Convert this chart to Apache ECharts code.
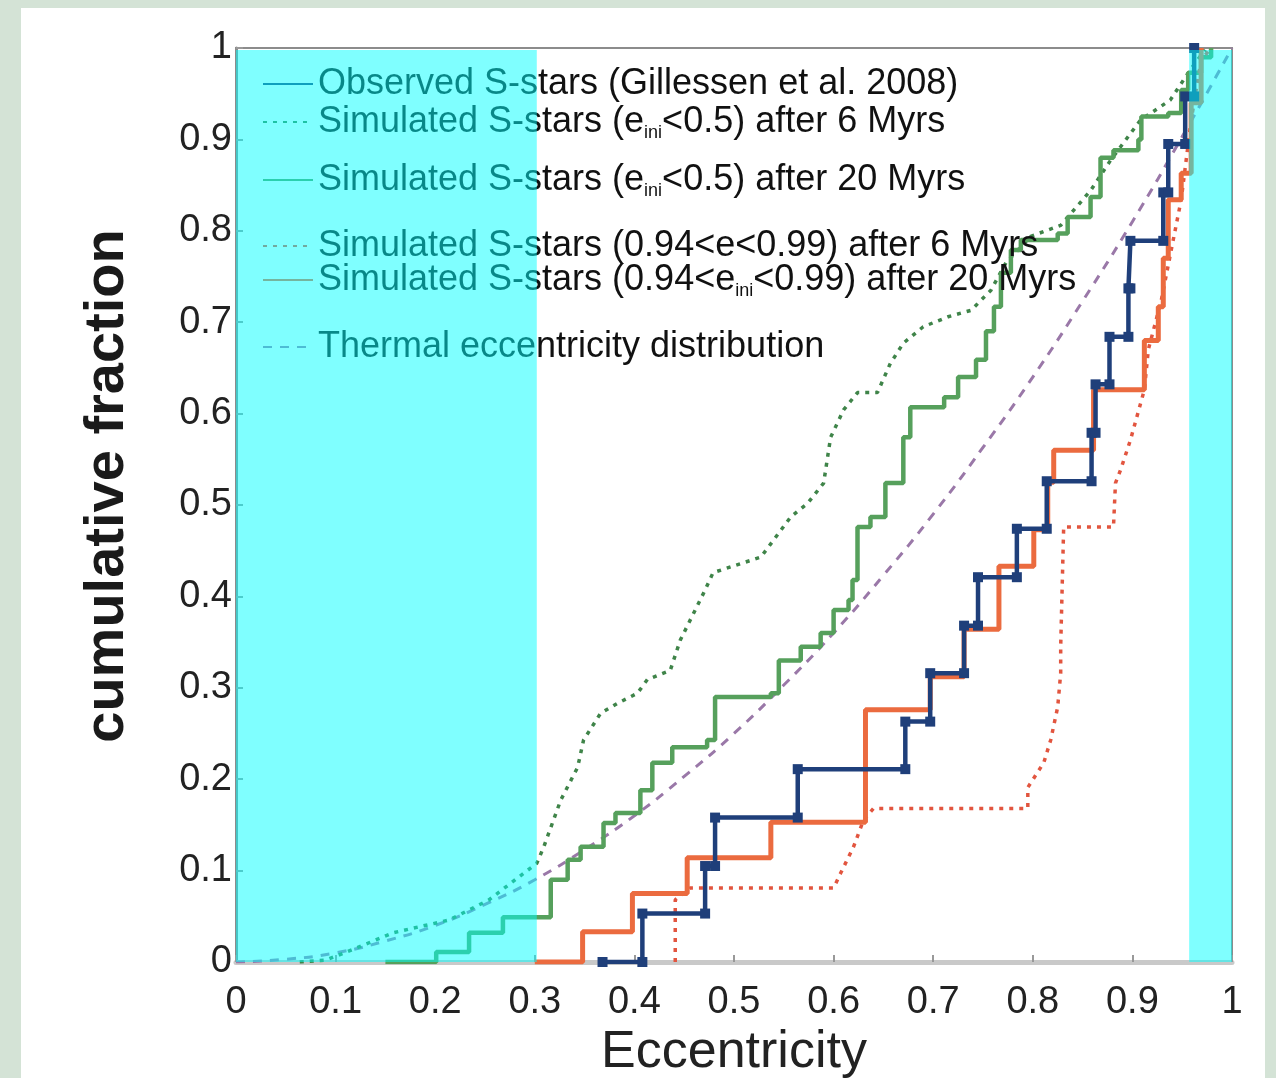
<!DOCTYPE html>
<html>
<head>
<meta charset="utf-8">
<script src="https://cdn.jsdelivr.net/npm/echarts@6/dist/echarts.min.js"></script>
<style>
  html, body { margin: 0; padding: 0; background: #d4e3d6; }
  #panel { position: absolute; left: 21px; top: 8px; width: 1244px; height: 1070px; background: #fff; }
  #chart { position: absolute; left: 0; top: 0; width: 1276px; height: 1078px; }
</style>
</head>
<body>
<div id="panel"></div>
<div id="chart"></div>
<script>
// observed S-stars, cumulative steps (ecc where the step happens, fraction after it)
const observedEcc = [0.368, 0.408, 0.471, 0.481, 0.564, 0.672, 0.697, 0.731, 0.745, 0.784, 0.814, 0.859, 0.863, 0.877, 0.896, 0.898, 0.931, 0.936, 0.953, 0.962]
const observedFrac = [0, 0.053, 0.105, 0.158, 0.211, 0.263, 0.316, 0.368, 0.421, 0.474, 0.526, 0.579, 0.632, 0.684, 0.737, 0.789, 0.842, 0.895, 0.947, 1.0]

// e_ini < 0.5, 6 Myr (dotted green)
const lowEarlyEcc = [0.064, 0.090, 0.111, 0.158, 0.214, 0.254, 0.284, 0.302, 0.309, 0.326, 0.343, 0.349, 0.366, 0.383, 0.403, 0.413, 0.436, 0.446, 0.461, 0.471, 0.479, 0.527, 0.540, 0.557, 0.574, 0.590, 0.597, 0.610, 0.624, 0.644, 0.657, 0.670, 0.690, 0.715, 0.738, 0.758, 0.773, 0.798, 0.828, 0.858, 0.878, 0.908, 0.938, 0.958, 0.973]
const lowEarlyFrac = [0, 0.002, 0.011, 0.032, 0.046, 0.068, 0.093, 0.108, 0.126, 0.177, 0.213, 0.243, 0.272, 0.283, 0.294, 0.309, 0.319, 0.352, 0.385, 0.407, 0.426, 0.443, 0.462, 0.487, 0.502, 0.524, 0.574, 0.604, 0.623, 0.623, 0.655, 0.677, 0.695, 0.706, 0.713, 0.735, 0.765, 0.794, 0.806, 0.844, 0.877, 0.921, 0.943, 0.976, 0.998]

// e_ini < 0.5, 20 Myr (solid green), steps
const lowLateEcc = [0.15, 0.201, 0.234, 0.268, 0.316, 0.333, 0.346, 0.369, 0.381, 0.406, 0.418, 0.438, 0.473, 0.481, 0.537, 0.545, 0.567, 0.587, 0.600, 0.615, 0.619, 0.624, 0.637, 0.652, 0.670, 0.677, 0.711, 0.725, 0.743, 0.753, 0.761, 0.768, 0.778, 0.788, 0.825, 0.835, 0.858, 0.868, 0.881, 0.906, 0.909, 0.936, 0.949, 0.956, 0.969, 0.979]
const lowLateFrac = [0, 0.011, 0.032, 0.049, 0.09, 0.112, 0.126, 0.152, 0.163, 0.188, 0.218, 0.235, 0.243, 0.29, 0.294, 0.33, 0.345, 0.36, 0.385, 0.396, 0.418, 0.476, 0.487, 0.524, 0.574, 0.607, 0.618, 0.64, 0.659, 0.69, 0.717, 0.754, 0.779, 0.79, 0.797, 0.815, 0.837, 0.88, 0.888, 0.9, 0.925, 0.929, 0.954, 0.973, 0.99, 1.0]

// 0.94 < e < 0.99, 6 Myr (dotted red)
const highEarlyEcc = [0.441, 0.441, 0.456, 0.600, 0.607, 0.620, 0.630, 0.640, 0.795, 0.795, 0.811, 0.818, 0.825, 0.828, 0.828, 0.831, 0.881, 0.883, 0.888, 0.898, 0.912, 0.916, 0.929, 0.939, 0.949, 0.959, 0.969, 0.979]
const highEarlyFrac = [0, 0.068, 0.081, 0.081, 0.097, 0.126, 0.155, 0.168, 0.168, 0.191, 0.218, 0.243, 0.279, 0.316, 0.345, 0.476, 0.476, 0.524, 0.538, 0.571, 0.626, 0.670, 0.724, 0.779, 0.834, 0.921, 0.987, 1.0]

// 0.94 < e_ini < 0.99, 20 Myr (solid orange), steps
const highLateEcc = [0.30, 0.348, 0.398, 0.453, 0.537, 0.632, 0.697, 0.731, 0.766, 0.801, 0.815, 0.821, 0.861, 0.912, 0.926, 0.931, 0.936, 0.949, 0.959, 0.969]
const highLateFrac = [0, 0.033, 0.075, 0.114, 0.153, 0.276, 0.312, 0.364, 0.433, 0.473, 0.525, 0.56, 0.626, 0.68, 0.717, 0.77, 0.834, 0.863, 0.94, 1.0]

// thermal distribution (dashed)
const thermalEcc = [0, 0.05, 0.1, 0.15, 0.2, 0.25, 0.3, 0.35, 0.4, 0.45, 0.5, 0.55, 0.6, 0.65, 0.7, 0.75, 0.8, 0.85, 0.9, 0.95, 1.0]
const thermalFrac = [0, 0.003, 0.01, 0.023, 0.04, 0.063, 0.09, 0.123, 0.16, 0.203, 0.25, 0.303, 0.36, 0.423, 0.49, 0.563, 0.64, 0.723, 0.81, 0.903, 1.0]

// shaded bands [from, to] in eccentricity
const shadedBands = [[0, 0.302], [0.957, 1.0]]

const seriesNames = [
	'Observed S-stars (Gillessen et al. 2008)',
	'Simulated S-stars (e_ini<0.5) after 6 Myrs',
	'Simulated S-stars (e_ini<0.5) after 20 Myrs',
	'Simulated S-stars (0.94<e<0.99) after 6 Myrs',
	'Simulated S-stars (0.94<e_ini<0.99) after 20 Myrs',
	'Thermal eccentricity distribution',
]

const zip = (xs, ys) => xs.map((x, i) => [x, ys[i]])
// explicit stair corners so markers sit on both ends of each riser
const stairs = (xs, ys) => {
	const out = [[xs[0], ys[0]]]
	for (let i = 1; i < xs.length; i++) {
		out.push([xs[i], ys[i - 1]])
		out.push([xs[i], ys[i]])
	}
	return out
}

const font = 'Liberation Sans, Arial, sans-serif'
const legendTops = [66, 104, 162, 228, 262, 329]

const legendFormatter = (name) => {
	if (name.indexOf('_ini') < 0) return '{t|' + name + '}'
	const parts = name.split('_ini')
	return '{t|' + parts[0] + '}{s|ini}{t|' + parts[1] + '}'
}

const chart = echarts.init(document.getElementById('chart'), null, { renderer: 'canvas' })

const option = {
	animation: false,
	backgroundColor: 'transparent',
	grid: {
		left: 236,
		right: 44,
		top: 48,
		bottom: 116,
		outerBoundsMode: 'none',
		containLabel: false,
		show: true,
		borderColor: '#8c8c8c',
		borderWidth: 2,
	},
	legend: seriesNames.map((name, i) => ({
		data: [name],
		left: 262,
		top: legendTops[i],
		padding: 0,
		itemWidth: 50,
		itemHeight: 18,
		itemStyle: { opacity: 0 },
		selectedMode: false,
		formatter: legendFormatter,
		textStyle: {
			rich: {
				t: { fontFamily: font, fontSize: 36, color: '#111', lineHeight: 38 },
				s: { fontFamily: font, fontSize: 18, color: '#111', padding: [22, 0, 0, 0] },
			},
		},
	})),
	xAxis: {
		type: 'value',
		min: 0,
		max: 1,
		interval: 0.1,
		name: 'Eccentricity',
		nameLocation: 'middle',
		nameGap: 54,
		nameTextStyle: { fontFamily: font, fontSize: 52, color: '#222' },
		axisLine: { show: true, lineStyle: { color: '#c9c9c9', width: 5 } },
		axisTick: { show: true, inside: true, length: 7, lineStyle: { color: '#999', width: 2 } },
		splitLine: { show: false },
		axisLabel: { fontFamily: font, fontSize: 38, color: '#222', margin: 22 },
	},
	yAxis: {
		type: 'value',
		min: 0,
		max: 1,
		interval: 0.1,
		name: 'cumulative fraction',
		nameLocation: 'middle',
		nameGap: 100,
		nameTextStyle: { fontFamily: font, fontSize: 56, fontWeight: 'bold', color: '#1a1a1a', padding: [0, 0, 0, 38] },
		axisLine: { show: true, lineStyle: { color: '#8c8c8c', width: 3 } },
		axisTick: { show: true, inside: true, length: 7, lineStyle: { color: '#999', width: 2 } },
		splitLine: { show: false },
		axisLabel: { fontFamily: font, fontSize: 38, color: '#222', margin: 4 },
	},
	series: [
		{
			name: seriesNames[5],
			type: 'line',
			data: zip(thermalEcc, thermalFrac),
			smooth: true,
			symbol: 'none',
			lineStyle: { color: '#9a78a8', width: 3, type: [9, 8] },
		},
		{
			name: seriesNames[1],
			type: 'line',
			data: zip(lowEarlyEcc, lowEarlyFrac),
			symbol: 'none',
			lineStyle: { color: '#3f8449', width: 3.5, type: [4, 6] },
		},
		{
			name: seriesNames[2],
			type: 'line',
			data: zip(lowLateEcc, lowLateFrac),
			step: 'end',
			symbol: 'none',
			lineStyle: { color: '#56a05c', width: 4.5 },
		},
		{
			name: seriesNames[3],
			type: 'line',
			data: zip(highEarlyEcc, highEarlyFrac),
			symbol: 'none',
			lineStyle: { color: '#e2553f', width: 3.5, type: [4, 6] },
		},
		{
			name: seriesNames[4],
			type: 'line',
			data: zip(highLateEcc, highLateFrac),
			step: 'end',
			symbol: 'none',
			lineStyle: { color: '#eb6b3f', width: 5 },
		},
		{
			name: seriesNames[0],
			type: 'line',
			data: stairs(observedEcc, observedFrac),
			symbol: 'rect',
			symbolSize: 10,
			itemStyle: { color: '#1f3f7a' },
			lineStyle: { color: '#1f3f7a', width: 4.5 },
		},
		{
			type: 'custom',
			z: 10,
			silent: true,
			data: shadedBands,
			renderItem: (params, api) => {
				const topLeft = api.coord([api.value(0), 1])
				const bottomRight = api.coord([api.value(1), 0])
				return {
					type: 'rect',
					shape: {
						x: topLeft[0],
						y: topLeft[1] + 2,
						width: bottomRight[0] - topLeft[0],
						height: bottomRight[1] - topLeft[1] - 2,
					},
					style: { fill: 'rgba(0,255,255,0.5)' },
				}
			},
		},
	],
}

chart.setOption(option)
</script>
</body>
</html>
